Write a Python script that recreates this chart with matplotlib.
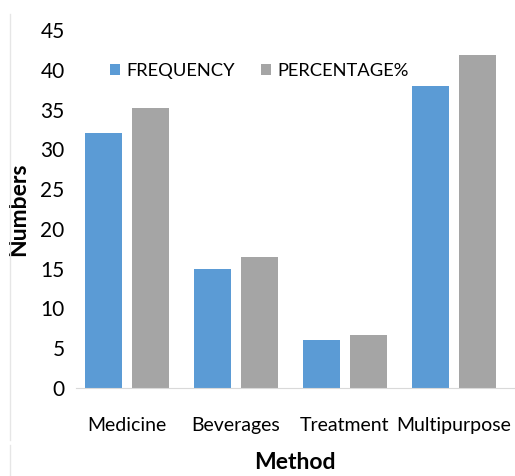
import numpy as np
import matplotlib.pyplot as plt
from matplotlib.lines import Line2D

# ── Dados ──────────────────────────────────────────────────
methods = ["Medicine", "Beverages", "Treatment", "Multipurpose"]
frequency = [32, 15, 6, 38]
percentage = [35.2, 16.5, 6.6, 41.8]
y_ticks = [0, 5, 10, 15, 20, 25, 30, 35, 40, 45]

BLUE = "#5B9BD5"
GRAY = "#A5A5A5"

plt.rcParams["font.family"] = ["Lato", "DejaVu Sans"]

fig = plt.figure(figsize=(5.15, 4.76), dpi=100)
ax = fig.add_axes([0.147, 0.185, 0.853, 0.752])

x = np.arange(len(methods))
w = 0.34
ax.bar(x - 0.215, frequency, width=w, color=BLUE, label="FREQUENCY")
ax.bar(x + 0.215, percentage, width=w, color=GRAY, label="PERCENTAGE%")

ax.set_xlim(-0.47, 3.56)
ax.set_ylim(0, 45)
ax.set_yticks(y_ticks)
ax.set_xticks(x)
ax.set_xticklabels(methods, fontsize=14)
ax.tick_params(axis="y", labelsize=15, length=0, pad=8)
ax.tick_params(axis="x", length=0, pad=21)

for s in ["top", "right", "left"]:
    ax.spines[s].set_visible(False)
ax.spines["bottom"].set_color("#D9D9D9")

ax.set_ylabel("Numbers", fontsize=16.5, fontweight="bold", labelpad=8)
ax.set_xlabel("Method", fontsize=16.5, fontweight="bold", labelpad=13)

ax.legend(loc="upper left", bbox_to_anchor=(0.04, 0.955), ncol=2, frameon=False,
          fontsize=13.2, handlelength=0.55, handleheight=0.55, handletextpad=0.35,
          columnspacing=1.4)

# restos da moldura à esquerda
fig.add_artist(Line2D([0.02, 0.02], [0.075, 0.97], color="#E6E6E6", lw=1))
fig.add_artist(Line2D([0.02, 0.02], [0.0, 0.065], color="#E6E6E6", lw=1))

fig.savefig("out.png", dpi=100)
